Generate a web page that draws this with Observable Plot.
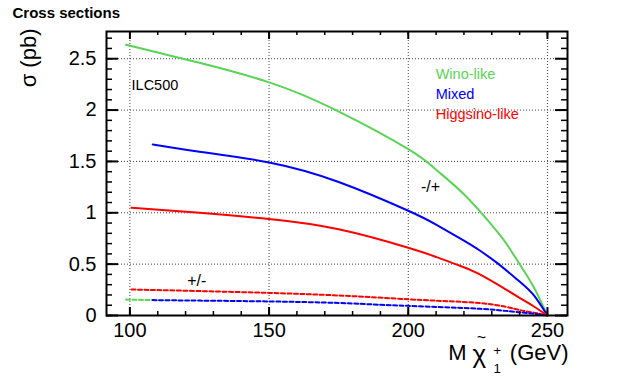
<!DOCTYPE html>
<html>
<head>
<meta charset="utf-8">
<script src="https://cdn.jsdelivr.net/npm/d3@7"></script>
<script src="https://cdn.jsdelivr.net/npm/@observablehq/plot@0.6"></script>
<style>
  html, body { margin: 0; padding: 0; background: white; }
</style>
</head>
<body>
<div id="chart"></div>
<script>
// ---- data ----
const winoMass   = [98.6, 110, 125, 150, 174, 200, 210, 220, 230, 235, 240, 245, 250];
const winoXsec   = [2.636, 2.56, 2.46, 2.27, 2.0, 1.62, 1.42, 1.18, 0.88, 0.71, 0.5, 0.28, 0];

const mixedMass  = [108.2, 125, 150, 175, 200, 210, 220, 225, 232, 240, 245, 250];
const mixedXsec  = [1.665, 1.595, 1.49, 1.30, 1.02, 0.885, 0.73, 0.645, 0.51, 0.33, 0.2, 0];

const higgsMass  = [100.6, 125, 150, 175, 200, 210, 217, 225, 235.6, 240, 245, 250];
const higgsXsec  = [1.05, 1.0, 0.94, 0.84, 0.66, 0.57, 0.5, 0.41, 0.245, 0.172, 0.09, 0];

// "+/-" charge combination (dashed)
const higgsPMMass = [100.6, 125, 150, 175, 200, 215, 226, 235, 240.4, 245, 250];
const higgsPMXsec = [0.253, 0.238, 0.22, 0.195, 0.158, 0.138, 0.12, 0.085, 0.05, 0.028, 0];
const mixedPMMass = [108.2, 125, 150, 175, 190, 200, 215, 226, 235, 240.4, 245, 250];
const mixedPMXsec = [0.15, 0.145, 0.137, 0.122, 0.104, 0.094, 0.078, 0.065, 0.045, 0.03, 0.018, 0];
const winoPMMass  = [98.6, 108.2];
const winoPMXsec  = [0.155, 0.15];

const xMajor = [100, 150, 200, 250];
const xMinor = d3.range(100, 251, 10);
const yMajor = [0, 0.5, 1, 1.5, 2, 2.5];
const yMinor = d3.range(0, 28).map(i => i / 10);
const yGrid  = [0.5, 1, 1.5, 2, 2.5];

const legendLabels = ["Wino-like", "Mixed", "Higgsino-like"];
const legendColors = ["#59d454", "#0000ff", "#ff0000"];
const legendY      = [2.347, 2.152, 1.957];

// ---- helpers ----
const toRows = (m, s) => m.map((x, i) => ({x, y: s[i]}));

const W = 617, H = 385;
const mT = 31, mR = 50, mB = 70, mL = 106;
const FH = H - mT - mB;
const FW = W - mL - mR;
const xMajLen = 8, xMinLen = 4, yMajLen = 12, yMinLen = 6;

const green = legendColors[0], blue = legendColors[1], red = legendColors[2];
const lw = 2;
const dash = "4,2.5";
const curve = "natural";

const plot = Plot.plot({
  width: W, height: H,
  marginTop: mT, marginRight: mR, marginBottom: mB, marginLeft: mL,
  x: {domain: [91.6, 257.2]},
  y: {domain: [0, 2.765]},
  style: {fontFamily: "'Liberation Sans', Arial, Helvetica, sans-serif", background: "white", color: "black"},
  marks: [
    // grid
    Plot.ruleX(xMajor, {x: d => d, stroke: "#444", strokeWidth: 1, strokeDasharray: "1,2"}),
    Plot.ruleY(yGrid, {y: d => d, stroke: "#444", strokeWidth: 1, strokeDasharray: "1,2"}),
    // curves
    Plot.line(toRows(winoPMMass, winoPMXsec), {x: "x", y: "y", stroke: green, strokeWidth: lw, strokeDasharray: dash, curve}),
    Plot.line(toRows(higgsPMMass, higgsPMXsec), {x: "x", y: "y", stroke: red, strokeWidth: lw, strokeDasharray: dash, curve}),
    Plot.line(toRows(mixedPMMass, mixedPMXsec), {x: "x", y: "y", stroke: blue, strokeWidth: lw, strokeDasharray: dash, curve}),
    Plot.line(toRows(winoMass, winoXsec), {x: "x", y: "y", stroke: green, strokeWidth: lw, curve}),
    Plot.line(toRows(mixedMass, mixedXsec), {x: "x", y: "y", stroke: blue, strokeWidth: lw, curve}),
    Plot.line(toRows(higgsMass, higgsXsec), {x: "x", y: "y", stroke: red, strokeWidth: lw, curve}),
    // inward ticks (bottom / top)
    Plot.tickX(xMajor, {x: d => d, insetTop: FH - xMajLen, strokeWidth: 2}),
    Plot.tickX(xMinor, {x: d => d, insetTop: FH - xMinLen, strokeWidth: 1.5}),
    Plot.tickX(xMajor, {x: d => d, insetBottom: FH - xMajLen, strokeWidth: 2}),
    Plot.tickX(xMinor, {x: d => d, insetBottom: FH - xMinLen, strokeWidth: 1.5}),
    // inward ticks (left / right)
    Plot.tickY(yMajor, {y: d => d, insetRight: FW - yMajLen, strokeWidth: 2}),
    Plot.tickY(yMinor, {y: d => d, insetRight: FW - yMinLen, strokeWidth: 1.5}),
    Plot.tickY(yMajor, {y: d => d, insetLeft: FW - yMajLen, strokeWidth: 2}),
    Plot.tickY(yMinor, {y: d => d, insetLeft: FW - yMinLen, strokeWidth: 1.5}),
    Plot.frame({stroke: "black", strokeWidth: 2}),
    // axes labels
    Plot.axisX({ticks: xMajor, tickSize: 0, tickPadding: 7, fontSize: 20, label: null}),
    Plot.axisY({ticks: yMajor, tickSize: 0, tickPadding: 10, fontSize: 20, label: null, tickFormat: d => String(d)}),
    // axis titles
    Plot.text(["σ (pb)"], {frameAnchor: "top-left", rotate: -90, textAnchor: "end", lineAnchor: "middle", dx: -78, dy: -3, fontSize: 22}),
    Plot.text(["(GeV)"], {frameAnchor: "bottom-right", textAnchor: "end", lineAnchor: "middle", dx: 1, dy: 37, fontSize: 22}),
    Plot.text(["M"], {frameAnchor: "bottom-right", textAnchor: "end", lineAnchor: "middle", dx: -101, dy: 37, fontSize: 22}),
    Plot.text(["χ"], {frameAnchor: "bottom-right", textAnchor: "start", lineAnchor: "middle", dx: -95, dy: 39, fontSize: 26}),
    Plot.text(["~"], {frameAnchor: "bottom-right", textAnchor: "middle", lineAnchor: "middle", dx: -86, dy: 22, fontSize: 16}),
    Plot.text(["1"], {frameAnchor: "bottom-right", textAnchor: "start", lineAnchor: "middle", dx: -74, dy: 53, fontSize: 13}),
    Plot.text(["+"], {frameAnchor: "bottom-right", textAnchor: "start", lineAnchor: "middle", dx: -74, dy: 35, fontSize: 13}),
    // chart title
    Plot.text(["Cross sections"], {frameAnchor: "top-left", textAnchor: "start", lineAnchor: "middle", dx: -94, dy: -18, fontSize: 15, fontWeight: "bold"}),
    // annotations
    Plot.text(["ILC500"], {x: 100.6, y: 2.243, textAnchor: "start", fontSize: 14.5}),
    Plot.text(legendLabels, {x: 209.85, y: (d, i) => legendY[i], fill: (d, i) => legendColors[i], textAnchor: "start", fontSize: 14.5}),
    Plot.text(["-/+"], {x: 208.0, y: 1.256, fontSize: 16}),
    Plot.text(["+/-"], {x: 124.0, y: 0.34, fontSize: 16})
  ]
});
document.getElementById("chart").appendChild(plot);
</script>
</body>
</html>
